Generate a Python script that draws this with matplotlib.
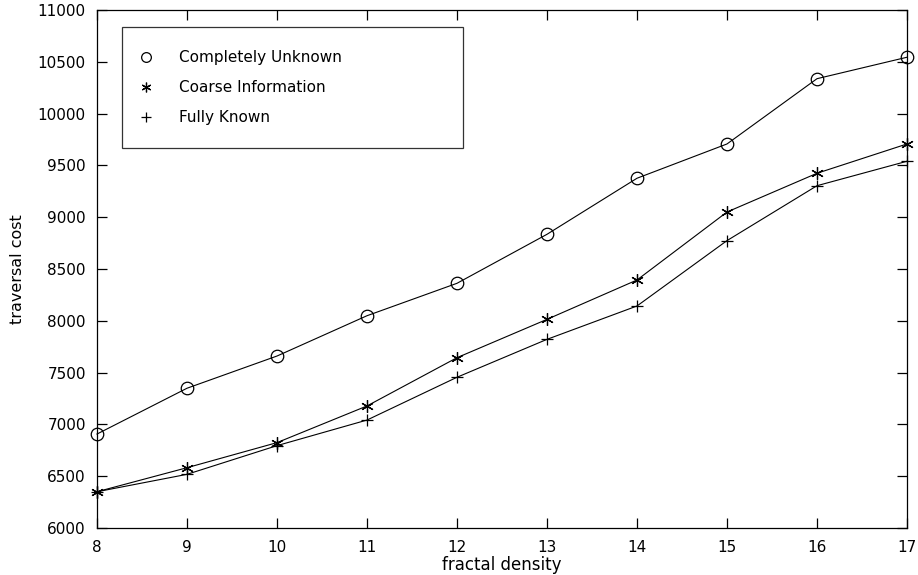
import numpy as np
import matplotlib
matplotlib.use("Agg")
import matplotlib.pyplot as plt
from matplotlib.lines import Line2D

plt.rcParams['font.family'] = ['DejaVu Sans']

density = [8, 9, 10, 11, 12, 13, 14, 15, 16, 17]
unknown = [6907, 7349, 7660, 8049, 8362, 8835, 9376, 9707, 10337, 10544]
coarse = [6350, 6582, 6824, 7178, 7644, 8014, 8394, 9050, 9424, 9707]
known = [6350, 6518, 6795, 7042, 7455, 7821, 8143, 8774, 9304, 9540]

labels = ['Completely Unknown', 'Coarse Information', 'Fully Known']
markers = ['o', (6, 2, 0), '+']
yticks = np.arange(6000, 11001, 500)

fig = plt.figure(figsize=(9.18, 5.75), dpi=100)
ax = fig.add_axes([97 / 918, 47 / 575, 810 / 918, 518 / 575])

series = [unknown, coarse, known]
handles = []
for vals, mk, lab in zip(series, markers, labels):
    ax.plot(density, vals, color='black', linewidth=0.8, marker=mk,
            markersize=9, markerfacecolor='none', markeredgecolor='black',
            markeredgewidth=0.9, clip_on=False)
    handles.append(Line2D([], [], linestyle='none', marker=mk, markersize=7,
                          markerfacecolor='none', markeredgecolor='black',
                          markeredgewidth=0.9, label=lab))

ax.set_xlim(8, 17)
ax.set_ylim(6000, 11000)
ax.set_xticks(density)
ax.set_yticks(yticks)
ax.tick_params(direction='in', length=7, width=0.9, top=True, right=True,
               labelsize=11)
ax.tick_params(axis='x', pad=9)
ax.tick_params(axis='y', pad=8)
for s in ax.spines.values():
    s.set_linewidth(0.9)

ax.set_xlabel('fractal density', fontsize=12, labelpad=0)
ax.set_ylabel('traversal cost', fontsize=11.5, labelpad=9)

top = 1 - 17 / 518
leg = ax.legend(handles=handles, loc='upper left',
                bbox_to_anchor=(25 / 810, top - 0.3, 341 / 810, 0.3),
                mode='expand', fontsize=11, frameon=True, fancybox=False,
                edgecolor='black', handletextpad=2.0, labelspacing=1.0,
                borderpad=1.5, handlelength=0.2, borderaxespad=0)
leg.get_frame().set_linewidth(0.9)

fig.savefig('out.png', dpi=100)
